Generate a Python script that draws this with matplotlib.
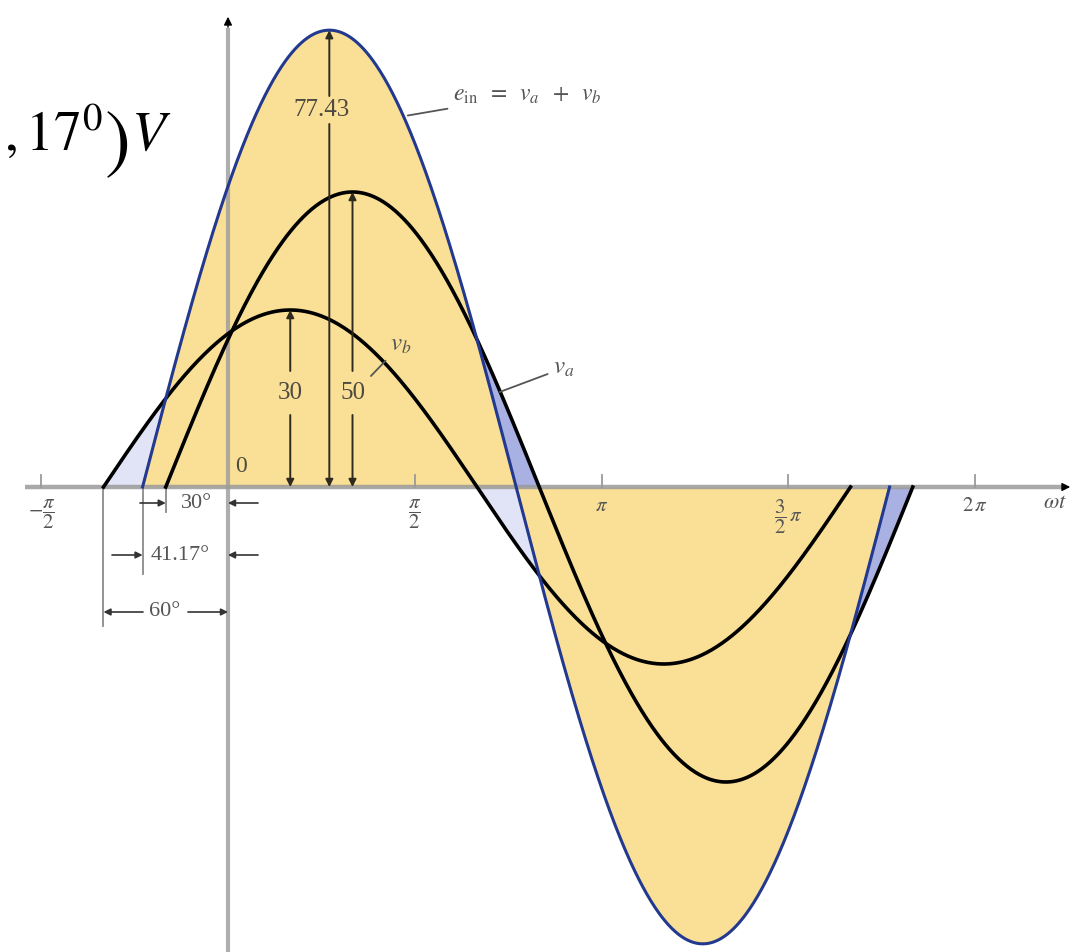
import matplotlib
matplotlib.use('Agg')
import matplotlib.pyplot as plt
import numpy as np

# sinusoid parameters (amplitude in V, phase in degrees)
names = ['v_a', 'v_b', 'e_in']
amplitudes = [50.0, 30.0, 77.43]
phases_deg = [30.0, 60.0, 41.17]

tick_degrees = [-90, 90, 180, 270, 360]
tick_labels = [r'$-\dfrac{\pi}{2}$', r'$\dfrac{\pi}{2}$', r'$\pi$',
               r'$\dfrac{3}{2}\,\pi$', r'$2\,\pi$']

dim_labels = ['30°', '41.17°', '60°']

YELLOW = '#fae096'
LIGHT_BLUE = '#e1e4f6'
MID_BLUE = '#a9b0e2'
E_BLUE = '#22398f'
AXIS_GREY = '#9a9a9a'
TXT = '#4d4a40'

plt.rcParams['font.family'] = ['Liberation Serif', 'DejaVu Serif']
plt.rcParams['mathtext.fontset'] = 'stix'

# pixel layout of the original picture
W, H = 1073, 952
X0, SX = 228.0, 2.075     # px of 0 deg, px per degree
Y0, SY = 487.0, 5.9       # px of 0 V, px per volt


def dx(px):
    return (px - X0) / SX


def dy(py):
    return (Y0 - py) / SY


fig = plt.figure(figsize=(W / 100, H / 100), dpi=100)
ax = fig.add_axes([0, 0, 1, 1])
ax.set_xlim(dx(0), dx(W))
ax.set_ylim(dy(H), dy(0))
ax.axis('off')

curves = {}
for n, a, p in zip(names, amplitudes, phases_deg):
    th = np.linspace(-p, 360 - p, 721)
    curves[n] = (th, a * np.sin(np.radians(th + p)), a, p)

# common grid for the fills
th = np.linspace(-70, 340, 4101)
va = amplitudes[0] * np.sin(np.radians(th + phases_deg[0]))
vb = amplitudes[1] * np.sin(np.radians(th + phases_deg[1]))
e = amplitudes[2] * np.sin(np.radians(th + phases_deg[2]))
the, ev = curves['e_in'][0], curves['e_in'][1]

ax.fill_between(the, ev, 0, color=YELLOW, lw=0, zorder=1)
pa, pb = phases_deg[0], phases_deg[1]
w1 = (th >= -pb) & (th <= -pa)
w2 = (th >= 180 - pb) & (th <= 180 - pa)
w4 = (th >= 360 - pb) & (th <= 360 - pa)
ax.fill_between(th, np.maximum(e, 0), vb, where=w1, color=LIGHT_BLUE, lw=0, zorder=1)
ax.fill_between(th, np.maximum(e, 0), va, where=w2, color=MID_BLUE, lw=0, zorder=1)
ax.fill_between(th, np.minimum(e, 0), vb, where=w2, color=LIGHT_BLUE, lw=0, zorder=1)
ax.fill_between(th, np.minimum(e, 0), va, where=w4, color=MID_BLUE, lw=0, zorder=1)

# axes lines
ax.plot([dx(25), dx(1066)], [0, 0], color=AXIS_GREY, lw=3.2, alpha=0.85,
        zorder=2, solid_capstyle='butt')
ax.plot([0, 0], [dy(H), dy(28)], color=AXIS_GREY, lw=3.0, alpha=0.8,
        zorder=2, solid_capstyle='butt')
ax.annotate('', xy=(dx(1073), 0), xytext=(dx(1060), 0),
            arrowprops=dict(arrowstyle='-|>', color='k', lw=1,
                            mutation_scale=12), zorder=5)
ax.annotate('', xy=(0, dy(14)), xytext=(0, dy(30)),
            arrowprops=dict(arrowstyle='-|>', color='k', lw=1,
                            mutation_scale=12), zorder=5)

# tick marks and labels
for d, lab in zip(tick_degrees, tick_labels):
    ax.plot([d, d], [0, dy(Y0 - 12)], color=AXIS_GREY, lw=1.3, zorder=2)
    ax.text(d, dy(497), lab, ha='center', va='top', fontsize=15,
            color='#555555', zorder=5)
ax.text(dx(1055), dy(503), r'$\omega t$', ha='center', va='center',
        fontsize=16, color='#555555')

# the sinusoids
for n in names:
    t, v, a, p = curves[n]
    if n == 'e_in':
        ax.plot(t, v, color=E_BLUE, lw=2.2, zorder=4)
    else:
        ax.plot(t, v, color='k', lw=2.6, zorder=4)

# amplitude arrows
arr = dict(arrowstyle='-|>', color='#2e2a20', lw=1.4, mutation_scale=11,
           shrinkA=0, shrinkB=0)
amp_labels = {'v_b': '30', 'v_a': '50', 'e_in': '77.43'}
for (n, lab_y, gap) in (('v_b', 393, 22), ('e_in', 110, 14), ('v_a', 393, 22)):
    t, v, a, p = curves[n]
    pk = 90 - p
    ax.text(pk - (4 if n == 'e_in' else 0), dy(lab_y), amp_labels[n],
            ha='center', va='center', fontsize=18, color=TXT, zorder=5)
    ax.annotate('', xy=(pk, a), xytext=(pk, dy(lab_y - gap)), arrowprops=arr,
                zorder=5)
    ax.annotate('', xy=(pk, 0), xytext=(pk, dy(lab_y + gap)), arrowprops=arr,
                zorder=5)

ax.text(dx(241), dy(466), '0', ha='center', va='center', fontsize=17,
        color=TXT, zorder=5)

# dimension lines for the phase angles
ext = {-phases_deg[1]: 626, -phases_deg[2]: 574, -phases_deg[0]: 512}
for d, bottom in ext.items():
    ax.plot([d, d], [0, dy(bottom)], color='#8a8a8a', lw=1.3, zorder=2)

small = dict(arrowstyle='-|>', color='#333333', lw=1.2, mutation_scale=10,
             shrinkA=0, shrinkB=0)
# 30 deg: arrows from outside
y30 = dy(503)
ax.annotate('', xy=(-phases_deg[0], y30), xytext=(dx(140), y30), arrowprops=small)
ax.annotate('', xy=(0, y30), xytext=(dx(258), y30), arrowprops=small)
ax.text(dx(197), y30, dim_labels[0], ha='center', va='center', fontsize=16,
        color='#555555')
# 41.17 deg
y41 = dy(555)
ax.annotate('', xy=(-phases_deg[2], y41), xytext=(dx(112), y41), arrowprops=small)
ax.annotate('', xy=(0, y41), xytext=(dx(258), y41), arrowprops=small)
ax.text(dx(180), y41, dim_labels[1], ha='center', va='center', fontsize=16,
        color='#555555')
# 60 deg: arrows from the label outwards
y60 = dy(612)
ax.annotate('', xy=(-phases_deg[1], y60), xytext=(dx(143), y60), arrowprops=small)
ax.annotate('', xy=(0, y60), xytext=(dx(188), y60), arrowprops=small)
ax.text(dx(165), y60, dim_labels[2], ha='center', va='center', fontsize=16,
        color='#555555')

# curve labels with leaders
lead = dict(arrowstyle='-', color='#555555', lw=1.3)
ax.annotate(r'$e_{\rm in}\;\;=\;\;v_a\;\;+\;\;v_b$', xy=(dx(405), dy(116)),
            xytext=(dx(453), dy(95)), ha='left', va='center', fontsize=17,
            color='#555555', arrowprops=lead, zorder=5)
ax.annotate(r'$v_b$', xy=(dx(369), dy(378)), xytext=(dx(390), dy(345)),
            ha='left', va='center', fontsize=18, color='#555555',
            arrowprops=lead, zorder=5)
ax.annotate(r'$v_a$', xy=(dx(497), dy(393)), xytext=(dx(553), dy(368)),
            ha='left', va='center', fontsize=18, color='#555555',
            arrowprops=lead, zorder=5)

# tail of the equation visible at the left edge
ax.text(dx(4), dy(150), r'$,17^{0}$', ha='left', va='baseline',
        fontsize=40, color='k', zorder=6)
ax.text(dx(104), dy(164), r'$)$', ha='left', va='baseline',
        fontsize=56, color='k', zorder=6)
ax.text(dx(131), dy(150), r'$V$', ha='left', va='baseline',
        fontsize=40, color='k', zorder=6)

fig.savefig('out.png', dpi=100)
